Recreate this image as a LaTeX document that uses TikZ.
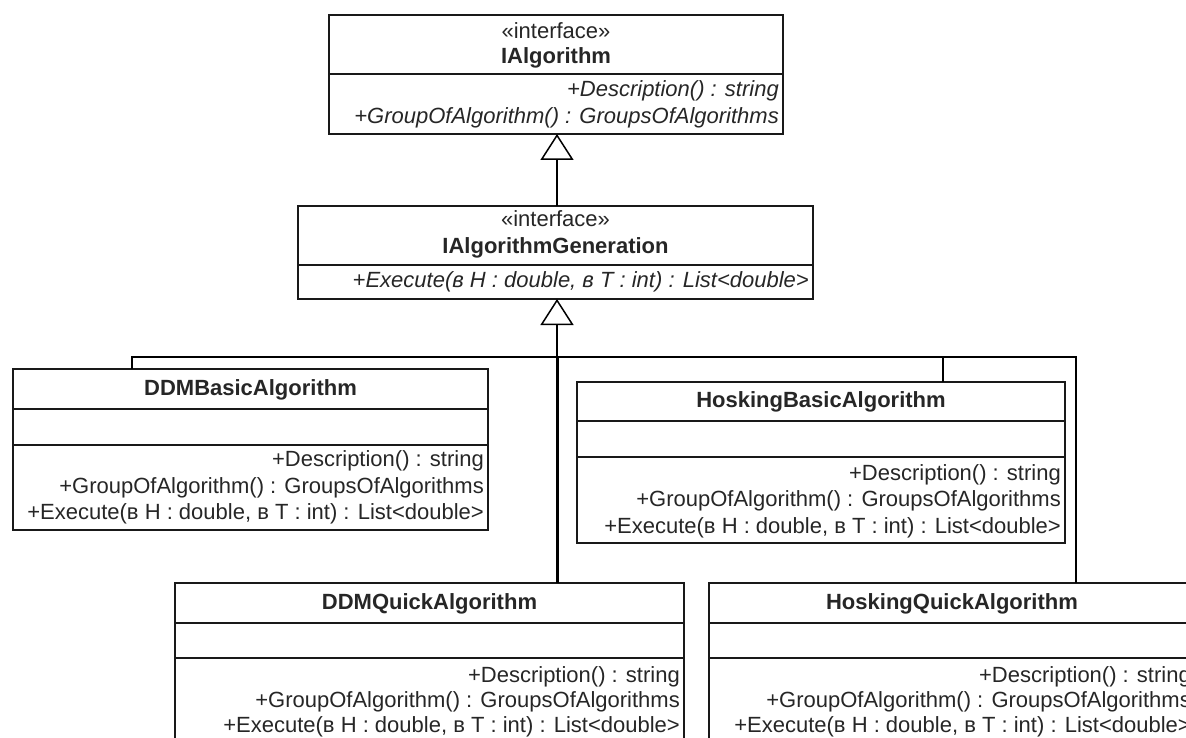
\documentclass[tikz,border=0pt]{standalone}
\usepackage{fontspec}
\setmainfont{Liberation Sans}
\usetikzlibrary{arrows.meta}

\begin{document}
\begin{tikzpicture}[x=1pt,y=-1pt,
    box/.style={draw=black!90,line width=1.5pt,inner sep=0pt,outer sep=0pt,anchor=north west},
    sep/.style={draw=black!90,line width=1.5pt},
    txt/.style={inner sep=0pt,text=black!85,font=\fontsize{22}{26}\selectfont},
    stereo/.style={txt,anchor=base},
    title/.style={txt,anchor=base,font=\fontsize{22}{26}\selectfont\bfseries},
    op/.style={txt,anchor=base east,xshift=-4pt},
    abstract/.style={op,font=\fontsize{22}{26}\selectfont\itshape},
    link/.style={draw=black,line width=2.2pt},
    gen/.style={link,-{Triangle[open,length=26pt,width=33pt,line width=1.5pt]}}]
  \useasboundingbox (0,0) rectangle (1186,738);
  \clip (0,0) rectangle (1186,738);

  % IAlgorithm
  \node[box,minimum width=454pt,minimum height=119pt] (ialg) at (329,15) {};
  \draw[sep] (ialg.west |- 0,74) -- (ialg.east |- 0,74);
  \node[stereo] (ialg-st) at (ialg.north |- 0,39) {«interface»};
  \node[title] (ialg-name) at (ialg.north |- 0,64) {IAlgorithm};
  \node[abstract] (ialg-op1) at (ialg.east |- 0,97) {+Description() : string};
  \node[abstract] (ialg-op2) at (ialg.east |- 0,124) {+GroupOfAlgorithm() : GroupsOfAlgorithms};

  % IAlgorithmGeneration
  \node[box,minimum width=515pt,minimum height=93pt] (iag) at (298,206) {};
  \draw[sep] (iag.west |- 0,265) -- (iag.east |- 0,265);
  \node[stereo] (iag-st) at (iag.north |- 0,227) {«interface»};
  \node[title] (iag-name) at (iag.north |- 0,254) {IAlgorithmGeneration};
  \node[abstract] (iag-op1) at (iag.east |- 0,287) {+Execute(в H : double, в T : int) : List<double>};

  % DDMBasicAlgorithm
  \node[box,minimum width=475pt,minimum height=161pt] (ddmb) at (13,369) {};
  \draw[sep] (ddmb.west |- 0,409) -- (ddmb.east |- 0,409);
  \draw[sep] (ddmb.west |- 0,445) -- (ddmb.east |- 0,445);
  \node[title] (ddmb-name) at (ddmb.north |- 0,395) {DDMBasicAlgorithm};
  \node[op] (ddmb-op1) at (ddmb.east |- 0,466) {+Description() : string};
  \node[op] (ddmb-op2) at (ddmb.east |- 0,493) {+GroupOfAlgorithm() : GroupsOfAlgorithms};
  \node[op] (ddmb-op3) at (ddmb.east |- 0,519) {+Execute(в H : double, в T : int) : List<double>};

  % HoskingBasicAlgorithm
  \node[box,minimum width=488pt,minimum height=161pt] (hb) at (577,382) {};
  \draw[sep] (hb.west |- 0,421) -- (hb.east |- 0,421);
  \draw[sep] (hb.west |- 0,457) -- (hb.east |- 0,457);
  \node[title] (hb-name) at (hb.north |- 0,407) {HoskingBasicAlgorithm};
  \node[op] (hb-op1) at (hb.east |- 0,480) {+Description() : string};
  \node[op] (hb-op2) at (hb.east |- 0,506) {+GroupOfAlgorithm() : GroupsOfAlgorithms};
  \node[op] (hb-op3) at (hb.east |- 0,533) {+Execute(в H : double, в T : int) : List<double>};

  % DDMQuickAlgorithm
  \node[box,minimum width=509pt,minimum height=180pt] (ddmq) at (175,583) {};
  \draw[sep] (ddmq.west |- 0,623) -- (ddmq.east |- 0,623);
  \draw[sep] (ddmq.west |- 0,658) -- (ddmq.east |- 0,658);
  \node[title] (ddmq-name) at (ddmq.north |- 0,609) {DDMQuickAlgorithm};
  \node[op] (ddmq-op1) at (ddmq.east |- 0,682) {+Description() : string};
  \node[op] (ddmq-op2) at (ddmq.east |- 0,707) {+GroupOfAlgorithm() : GroupsOfAlgorithms};
  \node[op] (ddmq-op3) at (ddmq.east |- 0,732) {+Execute(в H : double, в T : int) : List<double>};

  % HoskingQuickAlgorithm
  \node[box,minimum width=486pt,minimum height=180pt] (hq) at (709,583) {};
  \draw[sep] (hq.west |- 0,623) -- (hq.east |- 0,623);
  \draw[sep] (hq.west |- 0,658) -- (hq.east |- 0,658);
  \node[title] (hq-name) at (hq.north |- 0,609) {HoskingQuickAlgorithm};
  \node[op] (hq-op1) at (hq.east |- 0,682) {+Description() : string};
  \node[op] (hq-op2) at (hq.east |- 0,707) {+GroupOfAlgorithm() : GroupsOfAlgorithms};
  \node[op] (hq-op3) at (hq.east |- 0,732) {+Execute(в H : double, в T : int) : List<double>};

  % generalisations
  \coordinate (bar) at (557,357);
  \draw[gen] (iag.north -| bar) -- (ialg.south -| bar);
  \draw[gen] (bar) -- (bar |- iag.south);
  \draw[link] ([xshift=119pt]ddmb.north west) |- (bar);
  \draw[link] ([xshift=366pt]hb.north west) |- (bar);
  \draw[link] ([xshift=367pt]hq.north west) |- (bar);
  \draw[link,line width=3pt] (ddmq.north -| bar) -- (bar);
\end{tikzpicture}
\end{document}
